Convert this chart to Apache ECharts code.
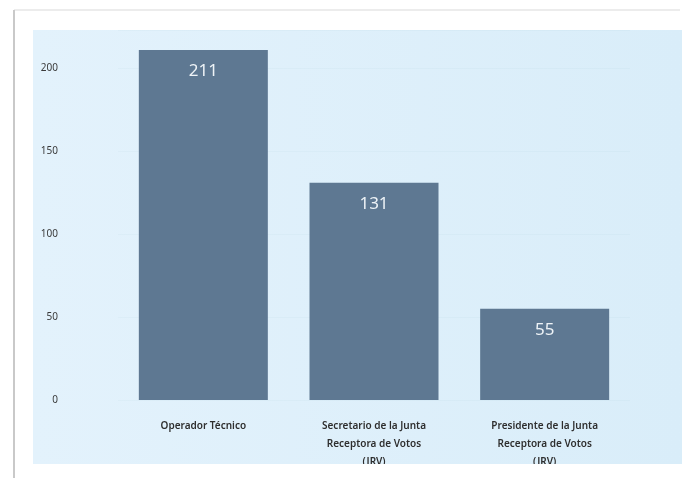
<!DOCTYPE html>
<html>
<head>
<meta charset="utf-8">
<script src="https://cdn.jsdelivr.net/npm/echarts@6/dist/echarts.min.js"></script>
<style>
  html, body { margin: 0; padding: 0; background: #fff; }
  #chart { width: 688px; height: 478px; }
</style>
</head>
<body>
<div id="chart"></div>
<script>
const categories = [
  "Operador Técnico",
  "Secretario de la Junta\nReceptora de Votos\n(JRV)",
  "Presidente de la Junta\nReceptora de Votos\n(JRV)"
];
const values = [211, 131, 55];
const yTicks = [0, 50, 100, 150, 200];

const myChart = echarts.init(document.getElementById("chart"));
myChart.setOption({
  backgroundColor: "#ffffff",
  animation: false,
  graphic: [
    {
      type: "rect",
      z: -10,
      shape: { x: 33, y: 30, width: 649, height: 440 },
      style: {
        fill: new echarts.graphic.LinearGradient(0, 0, 1, 0, [
          { offset: 0, color: "#e3f2fc" },
          { offset: 1, color: "#d9edf9" }
        ])
      }
    },
    {
      // the picture is cut off at the bottom of the panel
      type: "rect",
      z: 100,
      shape: { x: 0, y: 464, width: 688, height: 14 },
      style: { fill: "#ffffff" }
    },
    {
      type: "line",
      z: 101,
      shape: { x1: 14, y1: 10, x2: 680, y2: 10 },
      style: { stroke: "#ececec", lineWidth: 2 }
    },
    {
      type: "line",
      z: 101,
      shape: { x1: 14, y1: 10, x2: 14, y2: 478 },
      style: { stroke: "#c9c9c9", lineWidth: 2 }
    }
  ],
  grid: {
    left: 118,
    right: 58,
    top: 30,
    height: 370
  },
  xAxis: {
    type: "category",
    data: categories,
    axisLine: { show: false },
    axisTick: { show: false },
    axisLabel: {
      interval: 0,
      margin: 17,
      color: "#2e2e2e",
      fontSize: 10,
      fontWeight: 600,
      lineHeight: 18,
      fontFamily: "Noto Sans"
    }
  },
  yAxis: {
    type: "value",
    min: 0,
    max: 223,
    interval: 50,
    axisLine: { show: false },
    axisTick: { show: false },
    splitLine: { lineStyle: { color: "rgba(150,185,210,0.08)" } },
    axisLabel: {
      margin: 60,
      color: "#3a3a3a",
      fontSize: 10,
      fontFamily: "Noto Sans",
      formatter: (v) => (yTicks.includes(v) ? String(v) : "")
    }
  },
  series: [
    {
      type: "bar",
      data: values,
      barWidth: 129,
      itemStyle: { color: "#5e7892" },
      label: {
        show: true,
        position: "insideTop",
        distance: 13,
        color: "#eef3f7",
        fontSize: 17,
        fontFamily: "Noto Sans"
      }
    }
  ]
});
</script>
</body>
</html>
